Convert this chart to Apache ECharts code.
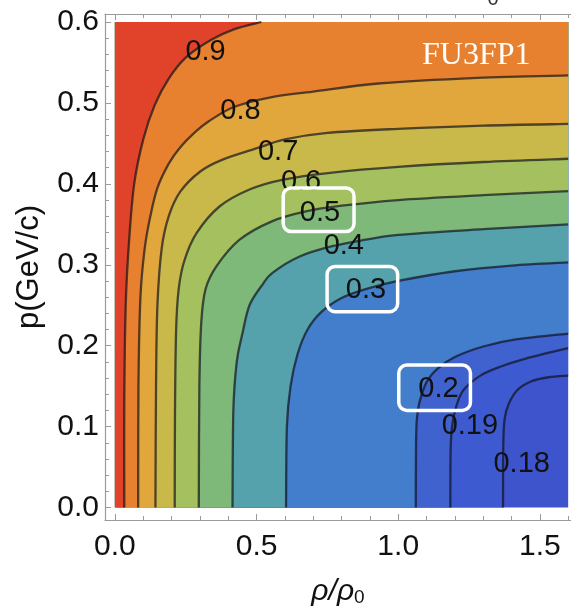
<!DOCTYPE html>
<html>
<head>
<meta charset="utf-8">
<script src="https://cdn.jsdelivr.net/npm/echarts@6/dist/echarts.min.js"></script>
<style>
  html, body { margin: 0; padding: 0; background: #ffffff; }
  #chart { width: 571px; height: 612px; }
</style>
</head>
<body>
<div id="chart"></div>
<script>
// Contour levels of the ratio, from the outermost (top-left) inwards
const levels = [0.9, 0.8, 0.7, 0.6, 0.5, 0.4, 0.3, 0.2, 0.19, 0.18];

// Each contour as [rho/rho0, p (GeV/c)] points, running from the p = 0 edge up/right
const contour090 = [[0.033,0],[0.033,0.13],[0.038,0.25],[0.05,0.33],[0.068,0.40],[0.10,0.455],[0.14,0.497],[0.19,0.53],[0.25,0.556],[0.34,0.578],[0.42,0.591],[0.517,0.6]];
const contour080 = [[0.082,0],[0.083,0.15],[0.09,0.26],[0.105,0.32],[0.125,0.36],[0.15,0.395],[0.19,0.425],[0.23,0.445],[0.28,0.463],[0.33,0.477],[0.42,0.495],[0.55,0.507],[0.7,0.514],[0.93,0.524],[1.28,0.531],[1.6,0.534]];
const contour070 = [[0.143,0],[0.145,0.15],[0.15,0.25],[0.165,0.32],[0.19,0.36],[0.23,0.39],[0.3,0.415],[0.38,0.43],[0.51,0.445],[0.6,0.455],[0.75,0.463],[1.0,0.468],[1.3,0.472],[1.6,0.474]];
const contour060 = [[0.211,0],[0.212,0.12],[0.216,0.22],[0.225,0.27],[0.245,0.305],[0.288,0.339],[0.369,0.372],[0.475,0.393],[0.59,0.405],[0.767,0.414],[1.0,0.421],[1.3,0.427],[1.6,0.431]];
const contour050 = [[0.296,0],[0.298,0.15],[0.305,0.23],[0.32,0.27],[0.358,0.298],[0.44,0.331],[0.556,0.354],[0.674,0.366],[0.8,0.373],[1.0,0.38],[1.3,0.386],[1.6,0.391]];
const contour040 = [[0.415,0],[0.418,0.12],[0.43,0.18],[0.45,0.215],[0.475,0.25],[0.52,0.275],[0.556,0.29],[0.65,0.31],[0.767,0.323],[0.885,0.331],[1.0,0.337],[1.3,0.344],[1.6,0.35]];
const contour030 = [[0.604,0],[0.607,0.1],[0.62,0.15],[0.645,0.19],[0.68,0.22],[0.73,0.242],[0.8,0.259],[0.885,0.27],[1.0,0.28],[1.2,0.292],[1.4,0.299],[1.6,0.303]];
const contour020 = [[1.062,0],[1.063,0.08],[1.066,0.11],[1.075,0.13],[1.1,0.155],[1.14,0.172],[1.2,0.186],[1.3,0.199],[1.42,0.208],[1.6,0.215]];
const contour019 = [[1.184,0],[1.185,0.07],[1.19,0.1],[1.205,0.125],[1.23,0.145],[1.29,0.163],[1.36,0.174],[1.45,0.184],[1.6,0.197]];
const contour018 = [[1.37,0],[1.371,0.08],[1.376,0.11],[1.39,0.128],[1.42,0.145],[1.47,0.156],[1.53,0.161],[1.6,0.163]];
const contours = [contour090, contour080, contour070, contour060, contour050, contour040, contour030, contour020, contour019, contour018];

// Tick values
const xMajorTicks = [0, 0.5, 1.0, 1.5];
const xMinorTicks = [0.1, 0.2, 0.3, 0.4, 0.6, 0.7, 0.8, 0.9, 1.1, 1.2, 1.3, 1.4, 1.6];
const yMajorTicks = [0, 0.1, 0.2, 0.3, 0.4, 0.5, 0.6];
const yMinorTicks = [0.02,0.04,0.06,0.08,0.12,0.14,0.16,0.18,0.22,0.24,0.26,0.28,0.32,0.34,0.36,0.38,0.42,0.44,0.46,0.48,0.52,0.54,0.56,0.58];

// Contour label texts and where they sit
const labelTexts = ['0.9', '0.8', '0.7', '0.6', '0.5', '0.4', '0.3', '0.2', '0.19', '0.18'];
const labelPositions = [[0.320,0.5635],[0.443,0.490],[0.576,0.4396],[0.657,0.4026],[0.724,0.3637],[0.808,0.323],[0.886,0.2694],[1.142,0.146],[1.253,0.101],[1.436,0.0536]];

// Highlight frames around the 0.5, 0.3 and 0.2 labels: [rhoMin, pMin, rhoMax, pMax]
const highlightBoxes = [[0.594,0.341,0.844,0.395],[0.749,0.242,0.998,0.298],[1.002,0.120,1.255,0.176]];

// Domain of the computed map
const RHO_MIN = 0, RHO_MAX = 1.6, P_MIN = 0, P_MAX = 0.6;

// Fill colour of the band just above each level, and of the region below the last one
const bandColors = ['#e1432a', '#e8812f', '#e1a73d', '#c9b94b', '#a5c05e', '#7eb97a', '#55a1ac', '#437ecd', '#3f62cf', '#3e5ad0'];
const lowestColor = '#3e54cd';

const FONT = '"Liberation Sans", Arial, Helvetica, sans-serif';

// Catmull-Rom through pixel points, as cubic Bezier path commands
function smoothPath(px) {
  let d = 'M' + px[0][0] + ',' + px[0][1];
  for (let i = 0; i < px.length - 1; i++) {
    const p0 = px[i - 1] || px[i], p1 = px[i], p2 = px[i + 1], p3 = px[i + 2] || px[i + 1];
    const c1 = [p1[0] + (p2[0] - p0[0]) / 6, p1[1] + (p2[1] - p0[1]) / 6];
    const c2 = [p2[0] - (p3[0] - p1[0]) / 6, p2[1] - (p3[1] - p1[1]) / 6];
    d += ' C' + c1[0] + ',' + c1[1] + ' ' + c2[0] + ',' + c2[1] + ' ' + p2[0] + ',' + p2[1];
  }
  return d;
}

// Region above a contour (higher values), closed along the plot edges
function regionPath(api, pts) {
  const px = pts.map(p => api.coord(p));
  let d = smoothPath(px);
  const last = pts[pts.length - 1];
  const corners = [];
  if (last[0] >= RHO_MAX) corners.push([RHO_MAX, P_MAX]);
  corners.push([RHO_MIN, P_MAX], [RHO_MIN, P_MIN]);
  corners.forEach(c => { const q = api.coord(c); d += ' L' + q[0] + ',' + q[1]; });
  return d + ' Z';
}

const chart = echarts.init(document.getElementById('chart'), null, { renderer: 'canvas' });

// Axis extents leave a small margin round the map, as in the framed plot
const X_MIN = -0.0351, X_MAX = 1.61, Y_MIN = -0.0154, Y_MAX = 0.6099;
const frameColor = '#9a9a9a';

function xAxisDef(pos, ticks, len, withLine, withLabels) {
  return {
    type: 'value', position: pos, min: X_MIN, max: X_MAX,
    axisLine: { show: withLine, onZero: false, lineStyle: { color: frameColor, width: 1.2 } },
    axisTick: { show: true, inside: true, length: len, customValues: ticks, lineStyle: { color: frameColor, width: 1 } },
    axisLabel: withLabels ? { show: true, customValues: xMajorTicks, formatter: v => v.toFixed(1), fontSize: 30, color: '#111', fontFamily: FONT, margin: 12 } : { show: false },
    splitLine: { show: false }
  };
}
function yAxisDef(pos, ticks, len, withLine, withLabels) {
  return {
    type: 'value', position: pos, min: Y_MIN, max: Y_MAX,
    axisLine: { show: withLine, onZero: false, lineStyle: { color: frameColor, width: 1.2 } },
    axisTick: { show: true, inside: true, length: len, customValues: ticks, lineStyle: { color: frameColor, width: 1 } },
    axisLabel: withLabels ? { show: true, customValues: yMajorTicks, formatter: v => v.toFixed(1), fontSize: 30, color: '#111', fontFamily: FONT, margin: 6 } : { show: false },
    splitLine: { show: false }
  };
}

const xMain = xAxisDef('bottom', xMajorTicks, 6, true, true);
xMain.name = '{a|ρ/ρ}{b|0}';
xMain.nameLocation = 'middle';
xMain.nameGap = 57;
xMain.nameTextStyle = {
  rich: {
    a: { fontFamily: FONT, fontStyle: 'italic', fontSize: 30, color: '#111', lineHeight: 30 },
    b: { fontFamily: FONT, fontSize: 19, color: '#111', verticalAlign: 'bottom', lineHeight: 19 }
  }
};

const yMain = yAxisDef('left', yMajorTicks, 6, true, true);
yMain.name = 'p(GeV/c)';
yMain.nameLocation = 'middle';
yMain.nameGap = 60;
yMain.nameTextStyle = { fontFamily: FONT, fontSize: 31, color: '#111' };

const levelIndex = levels.map((v, i) => [i]);

chart.setOption({
  animation: false,
  backgroundColor: '#ffffff',
  textStyle: { fontFamily: FONT },
  grid: { left: 105, top: 14, width: 468, height: 507, containLabel: false },
  xAxis: [
    xMain,
    xAxisDef('bottom', xMinorTicks, 4, false, false),
    xAxisDef('top', xMajorTicks, 6, true, false),
    xAxisDef('top', xMinorTicks, 4, false, false)
  ],
  yAxis: [
    yMain,
    yAxisDef('left', yMinorTicks, 4, false, false)
  ],
  graphic: [
    { type: 'text', left: 422, top: 40, z: 100,
      style: { text: 'FU3FP1', fill: '#ffffff', fontFamily: '"Liberation Serif", "Times New Roman", serif', fontSize: 32 } },
    { type: 'text', x: 493, y: 9, z: 100,
      style: { text: '0', fill: '#333', fontFamily: FONT, fontSize: 20, align: 'center', verticalAlign: 'bottom' } }
  ],
  series: [
    // base colour of the map (below the lowest level)
    {
      type: 'custom', coordinateSystem: 'cartesian2d', clip: true, z: 1,
      data: [[0]],
      renderItem: function (params, api) {
        const a = api.coord([RHO_MIN, P_MAX]), b = api.coord([RHO_MAX, P_MIN]);
        return { type: 'rect', shape: { x: a[0], y: a[1], width: b[0] - a[0], height: b[1] - a[1] }, style: { fill: lowestColor } };
      }
    },
    // filled bands, lowest level first so higher regions lie on top
    {
      type: 'custom', coordinateSystem: 'cartesian2d', clip: true, z: 2,
      data: levelIndex.slice().reverse(),
      renderItem: function (params, api) {
        const i = levelIndex.length - 1 - params.dataIndex;
        return { type: 'path', shape: { pathData: regionPath(api, contours[i]) }, style: { fill: bandColors[i], stroke: null } };
      }
    },
    // contour lines
    {
      type: 'custom', coordinateSystem: 'cartesian2d', clip: true, z: 3,
      data: levelIndex,
      renderItem: function (params, api) {
        const px = contours[params.dataIndex].map(p => api.coord(p));
        return { type: 'path', shape: { pathData: smoothPath(px) },
          style: { fill: null, stroke: 'rgba(15,15,25,0.68)', lineWidth: 2.3 } };
      }
    },
    // contour labels
    {
      type: 'custom', coordinateSystem: 'cartesian2d', clip: false, z: 4,
      data: levelIndex,
      renderItem: function (params, api) {
        const c = api.coord(labelPositions[params.dataIndex]);
        return { type: 'text', x: c[0], y: c[1],
          style: { text: labelTexts[params.dataIndex], fill: '#111', fontFamily: FONT, fontSize: 29, align: 'center', verticalAlign: 'middle' } };
      }
    },
    // white frames round the highlighted labels
    {
      type: 'custom', coordinateSystem: 'cartesian2d', clip: false, z: 5,
      data: highlightBoxes.map((b, i) => [i]),
      renderItem: function (params, api) {
        const b = highlightBoxes[params.dataIndex];
        const p1 = api.coord([b[0], b[3]]), p2 = api.coord([b[2], b[1]]);
        return { type: 'rect', shape: { x: p1[0], y: p1[1], width: p2[0] - p1[0], height: p2[1] - p1[1], r: 8 },
          style: { fill: null, stroke: '#ffffff', lineWidth: 3.5 } };
      }
    }
  ]
});
</script>
</body>
</html>
